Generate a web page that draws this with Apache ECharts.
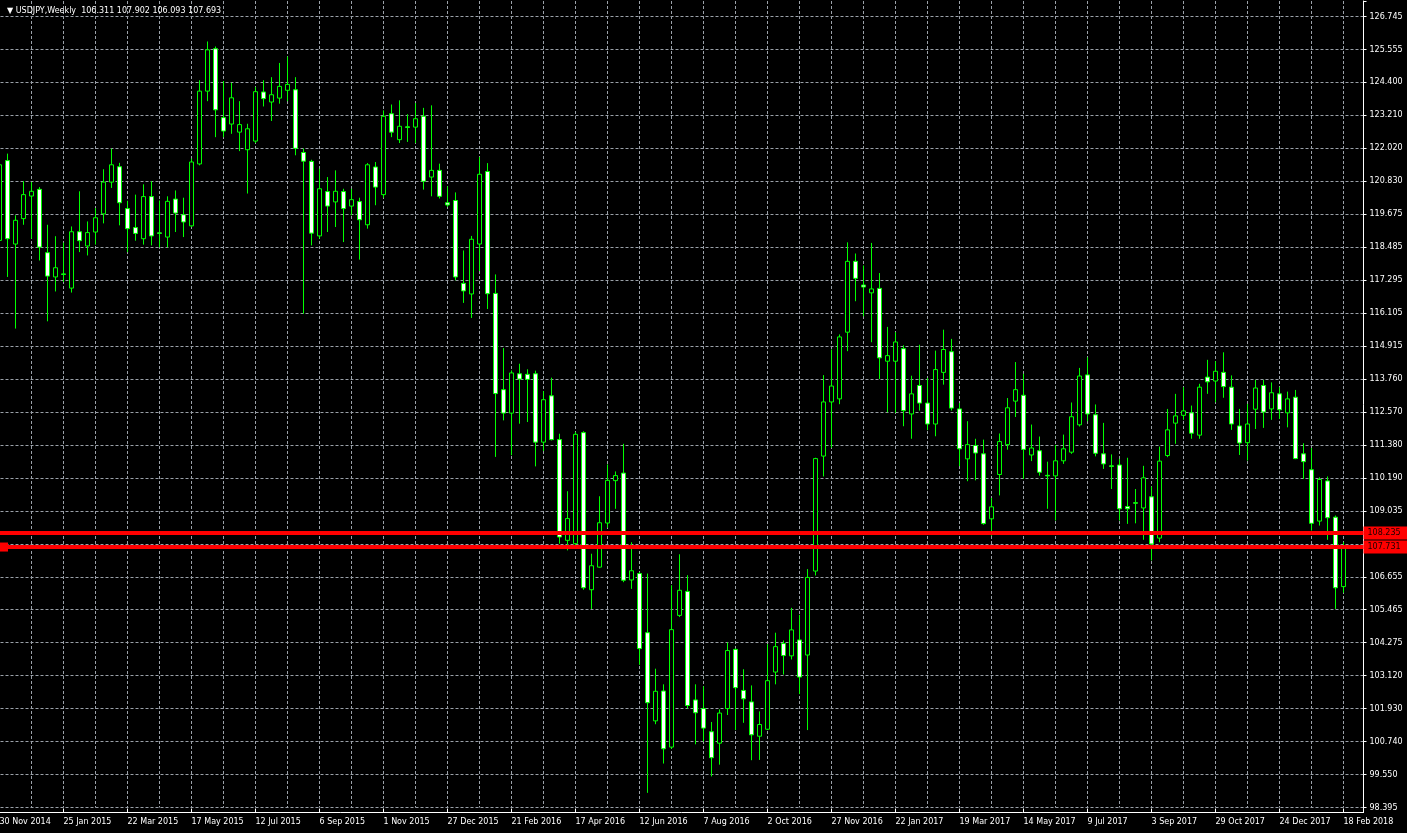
<!DOCTYPE html>
<html>
<head>
<meta charset="utf-8">
<script src="https://cdn.jsdelivr.net/npm/echarts@6/dist/echarts.min.js"></script>
<style>
html,body{margin:0;padding:0;background:#000;overflow:hidden;}
#chart{width:1407px;height:833px;}
</style>
</head>
<body>
<div id="chart"></div>
<script>
// ---------------- DATA ----------------
const symbolName = 'USDJPY,Weekly';
const headerValues = ['106.311', '107.902', '106.093', '107.693'];
const firstWeekUTC = [2014, 10, 30]; // 30 Nov 2014, first weekly bar

const opens = [
118.72,121.58,118.59,119.50,120.31,120.55,118.28,117.41,117.52,117.01,
119.03,118.52,119.02,119.67,120.81,121.36,119.86,119.18,118.78,120.29,
118.99,118.84,120.20,119.64,119.24,121.46,124.07,125.59,123.12,122.89,
122.60,121.97,122.28,124.04,123.68,123.82,124.10,124.12,121.87,121.55,
118.88,120.47,120.10,120.47,119.95,120.11,119.28,121.35,120.36,123.26,
122.33,122.79,122.78,123.17,120.99,121.23,120.07,120.15,117.18,116.80,
118.59,121.19,116.82,113.37,112.53,113.94,113.92,113.94,111.49,113.15,
111.58,107.97,107.85,111.83,106.20,107.01,108.59,110.11,110.38,106.55,
106.78,104.66,101.50,102.57,100.56,105.28,106.14,102.25,101.94,101.11,
100.70,101.94,104.06,102.59,102.18,100.95,101.20,103.25,104.27,103.83,
104.40,103.86,106.87,110.99,112.93,113.04,115.43,117.97,117.12,116.84,
117.00,114.39,114.39,114.84,112.50,113.52,112.89,112.14,113.99,114.73,
112.68,110.89,111.37,111.07,108.74,110.33,111.40,112.96,113.17,111.03,
111.18,110.30,110.28,110.82,111.13,112.11,113.90,112.47,111.07,110.64,
110.67,109.18,109.32,109.13,109.53,108.05,111.01,112.17,112.45,112.54,
111.74,113.82,113.68,113.99,113.46,112.07,111.47,112.67,113.52,112.68,
113.22,112.54,113.10,111.07,110.50,108.66,110.10,108.80,106.311
];
const highs = [
121.85,121.83,119.62,120.84,120.81,120.63,119.28,118.87,118.64,119.22,
120.48,119.40,119.88,121.27,122.01,121.50,120.14,120.36,120.73,120.84,
120.15,120.30,120.51,120.25,121.65,124.46,125.85,125.67,124.43,124.37,
123.71,122.90,124.22,124.46,124.57,125.08,125.31,124.57,122.01,121.61,
121.29,120.99,121.23,120.57,120.57,120.25,121.49,121.53,123.38,123.59,
123.74,123.24,123.64,123.47,123.56,121.47,120.66,120.44,118.36,118.88,
121.71,121.49,117.50,114.86,114.06,114.30,114.10,114.05,113.32,113.80,
111.79,109.73,111.85,111.88,107.49,109.55,110.69,110.44,111.43,107.90,
106.84,106.78,103.37,102.81,106.36,107.47,106.72,102.81,102.74,101.46,
101.91,104.31,104.10,103.35,102.77,101.84,104.25,104.66,104.38,105.55,
105.30,106.94,110.93,113.89,114.81,115.35,118.65,118.25,117.82,118.63,
117.55,115.62,115.43,114.96,113.87,114.98,113.79,114.77,115.52,115.19,
112.89,112.24,111.61,111.58,109.49,111.80,113.07,114.36,113.94,112.12,
111.69,110.79,111.39,111.76,112.91,114.15,114.53,112.84,112.18,111.05,
110.89,110.93,109.81,110.64,109.90,111.33,112.68,113.22,113.46,112.80,
113.58,114.44,114.39,114.71,113.88,112.68,112.86,113.72,113.72,113.63,
113.46,113.30,113.36,111.45,111.28,110.23,110.26,108.86,107.902
];
const lows = [
118.25,117.41,115.56,119.28,118.78,118.00,115.82,116.89,117.23,116.85,
118.30,118.18,118.57,119.33,120.60,119.26,118.30,118.71,118.57,118.54,
118.47,118.47,119.02,118.84,119.20,121.41,123.71,122.42,122.42,122.54,
121.92,120.40,122.21,123.52,123.00,123.62,123.71,121.77,116.09,118.54,
118.78,119.02,119.20,118.66,119.62,118.03,119.14,119.98,120.25,122.42,
122.21,122.25,122.21,120.54,120.30,120.22,119.92,117.29,116.48,115.94,
117.62,116.26,110.96,112.27,111.02,112.15,112.21,110.62,111.17,111.55,
107.85,107.61,107.73,106.20,105.51,106.99,108.42,109.10,106.47,106.23,
103.51,98.92,101.38,99.97,100.50,105.22,101.94,100.66,100.76,99.51,
99.93,101.71,101.17,101.43,100.09,100.10,101.17,102.81,103.16,103.70,
102.46,101.17,106.71,110.26,111.29,112.85,114.75,116.54,116.00,115.07,
113.75,112.56,112.54,112.06,111.61,112.62,111.92,111.70,113.55,112.62,
110.63,110.09,110.12,108.53,108.13,109.58,111.22,112.39,110.17,110.81,
110.29,109.10,108.68,110.71,111.07,112.05,112.24,110.98,110.53,109.81,
108.68,108.56,108.58,107.99,107.25,107.90,110.95,111.43,112.29,111.61,
111.61,113.22,112.92,113.08,111.93,111.03,110.83,111.96,112.00,112.29,
112.32,112.02,110.88,110.17,108.32,108.50,107.99,105.51,106.093
];
const closes = [
121.43,118.78,119.44,120.36,120.48,118.48,117.44,117.74,117.50,119.03,
118.71,119.00,119.53,120.81,121.43,120.07,119.14,118.97,120.29,118.88,
118.97,120.12,119.70,119.38,121.53,124.07,125.55,123.40,122.64,123.83,
122.87,122.72,124.05,123.80,123.94,124.24,124.31,122.02,121.56,118.98,
120.57,119.95,120.48,119.86,120.18,119.46,121.43,120.63,123.17,122.60,
122.81,122.77,123.08,120.84,121.23,120.30,119.99,117.41,116.91,118.76,
121.09,116.81,113.23,112.53,113.97,113.75,113.74,111.49,113.01,111.58,
108.09,108.75,111.77,106.27,107.06,108.60,110.12,110.29,106.54,106.88,
104.09,102.15,102.56,100.50,104.77,106.18,102.05,101.79,101.24,100.18,
101.78,104.02,102.69,102.29,101.00,101.37,102.94,104.16,103.84,104.76,
103.07,106.64,110.90,112.93,113.50,115.26,117.97,117.36,117.05,116.98,
114.51,114.59,115.08,112.62,113.22,112.89,112.14,114.09,114.81,112.71,
111.25,111.40,111.10,108.57,109.17,111.51,112.72,113.37,111.23,111.28,
110.41,110.28,110.82,111.25,112.40,113.86,112.50,111.09,110.71,110.62,
109.10,109.10,109.30,110.21,107.84,110.81,111.93,112.43,112.61,111.81,
113.46,113.65,114.03,113.48,112.14,111.46,112.14,113.43,112.57,113.26,
112.65,113.04,110.90,110.79,108.58,110.15,108.78,106.27,107.693
];

// right price scale tick labels (bottom to top)
const priceTickLabels = [
'98.395','99.550','100.740','101.930','103.120','104.275','105.465','106.655',
'107.845','109.035','110.190','111.380','112.570','113.760','114.915','116.105',
'117.295','118.485','119.675','120.830','122.020','123.210','124.400','125.555','126.745'
];
const priceAxisMin = 98.395;
const priceAxisMax = 127.3;
const priceTickStep = 1.18125;

// horizontal levels
const levelValues = [108.235, 107.731];
const levelLabels = ['108.235', '107.731'];

// ---------------- BUILD ----------------
const MONTHS = ['Jan','Feb','Mar','Apr','May','Jun','Jul','Aug','Sep','Oct','Nov','Dec'];
const startMs = Date.UTC(firstWeekUTC[0], firstWeekUTC[1], firstWeekUTC[2]);
const weeks = opens.map(function (_, i) {
  const d = new Date(startMs + i * 7 * 86400000);
  return d.getUTCDate() + ' ' + MONTHS[d.getUTCMonth()] + ' ' + d.getUTCFullYear();
});
// chart shift (empty space right of the last bar)
const axisCategories = weeks.concat(['', '']);
const candleData = opens.map(function (o, i) { return [o, closes[i], lows[i], highs[i]]; });

const FONT = 'DejaVu Sans';
const GRID_COLOR = '#9aa0a8';

function priceLabel(v, i) {
  const s = priceTickLabels[i];
  if (!s) return '';
  // a level tag on the price scale hides the tick label it overlaps
  for (let k = 0; k < levelValues.length; k++) {
    if (Math.abs(levelValues[k] - parseFloat(s)) < 0.3) return '';
  }
  return s;
}

const chart = echarts.init(document.getElementById('chart'), null, { renderer: 'canvas' });
chart.setOption({
  backgroundColor: '#000000',
  animation: false,
  title: {
    text: '\u25BC ' + symbolName + '  ' + headerValues.join(' '),
    left: 2, top: 2,
    textStyle: { color: '#ffffff', fontSize: 8, fontWeight: 'normal', fontFamily: FONT }
  },
  grid: { left: -4.5, right: 43.5, top: 1, bottom: 25.5, containLabel: false, outerBoundsMode: 'none' },
  xAxis: {
    type: 'category',
    data: axisCategories,
    boundaryGap: true,
    offset: 5,
    axisLine: { show: true, lineStyle: { color: '#ffffff', width: 1 } },
    axisTick: { show: true, inside: true, length: 4, interval: 7, alignWithLabel: true, lineStyle: { color: '#ffffff' } },
    axisLabel: { interval: 7, align: 'left', color: '#ffffff', fontSize: 8, fontFamily: FONT, margin: 5 },
    splitLine: { show: true, interval: 3, alignWithLabel: true, lineStyle: { color: GRID_COLOR, width: 1, type: [3, 2] } }
  },
  yAxis: {
    type: 'value',
    position: 'right',
    min: priceAxisMin,
    max: priceAxisMax,
    interval: priceTickStep,
    scale: true,
    axisLine: { show: true, lineStyle: { color: '#ffffff', width: 1 } },
    axisTick: { show: true, length: 3, lineStyle: { color: '#ffffff' } },
    axisLabel: {
      color: '#ffffff', fontSize: 8, fontFamily: FONT, margin: 6, align: 'left',
      formatter: priceLabel
    },
    splitLine: { show: true, showMaxLine: false, lineStyle: { color: GRID_COLOR, width: 1, type: [3, 2] } }
  },
  graphic: [{
    type: 'line', silent: true, z: 100,
    shape: { x1: 1363.5, y1: 806, x2: 1363.5, y2: 813 },
    style: { stroke: '#ffffff', lineWidth: 1 }
  }],
  series: [{
    type: 'candlestick',
    data: candleData,
    barWidth: 5,
    itemStyle: {
      color: '#000000', color0: '#ffffff',
      borderColor: '#00ff00', borderColor0: '#00ff00', borderWidth: 1
    },
    markLine: {
      silent: true,
      z: 10,
      symbol: ['none', 'none'],
      symbolRotate: 0,
      symbolOffset: [[8.5, 0], [-2.5, 0]],
      animation: false,
      lineStyle: { color: '#ff0000', width: 4, type: 'solid' },
      label: {
        show: true, position: 'end', distance: 0,
        backgroundColor: '#ff0000', color: '#1a0000',
        fontSize: 8, fontFamily: FONT, padding: [3, 8, 2, 4],
        formatter: function (p) { return levelLabels[p.dataIndex]; }
      },
      data: levelValues.map(function (v, i) {
        return i === 1 ? { yAxis: v, symbol: 'rect', symbolSize: [8, 9] } : { yAxis: v };
      })
    }
  }]
});
</script>
</body>
</html>
